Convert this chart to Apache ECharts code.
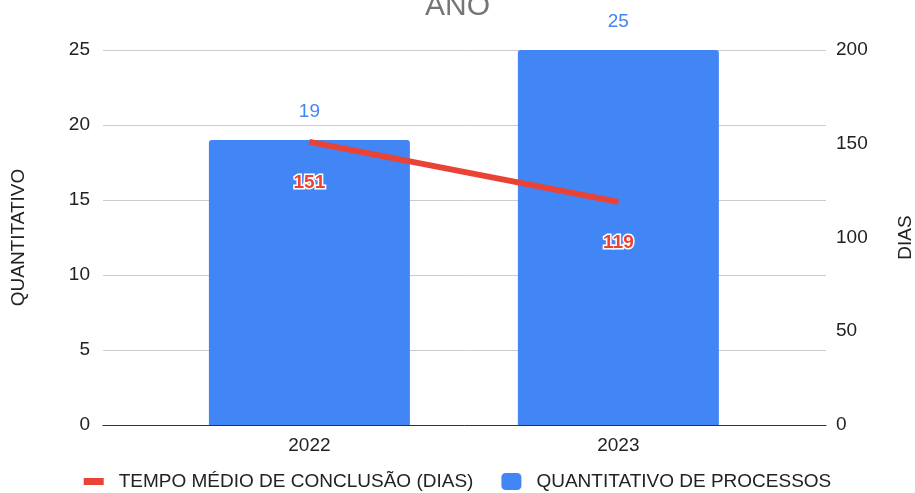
<!DOCTYPE html>
<html>
<head>
<meta charset="utf-8">
<script src="https://cdn.jsdelivr.net/npm/echarts@6/dist/echarts.min.js"></script>
<style>
html,body{margin:0;padding:0;background:#fff;}
#chart{width:915px;height:493px;}
</style>
</head>
<body>
<div id="chart"></div>
<script>
var anos = ['2022', '2023'];
var quantitativo = [19, 25];
var tempoMedio = [151, 119];
var ticksQuant = [0, 5, 10, 15, 20, 25];
var ticksDias = [0, 50, 100, 150, 200];

var chart = echarts.init(document.getElementById('chart'));
var fonte = '"Liberation Sans", Arial, sans-serif';

var option = {
    backgroundColor: '#fff',
    textStyle: { fontFamily: fonte },
    title: {
        text: 'ANO',
        left: 'center',
        top: -13,
        textStyle: { fontFamily: fonte, fontSize: 30, fontWeight: 'normal', color: '#757575' }
    },
    legend: {
        bottom: -3,
        left: 'center',
        itemGap: 28,
        itemWidth: 20,
        itemHeight: 17,
        textStyle: { fontFamily: fonte, fontSize: 19, color: '#222', padding: [0, 0, 0, 10] },
        data: [
            { name: 'TEMPO MÉDIO DE CONCLUSÃO (DIAS)', icon: 'path://M0,0H20V7H0Z', itemStyle: { color: '#ea4335' } },
            { name: 'QUANTITATIVO DE PROCESSOS', icon: 'roundRect' }
        ]
    },
    grid: { left: 103, right: 89, top: 50, bottom: 68, outerBoundsMode: 'none', containLabel: false },
    //eixo x como valor para deixar as barras no lugar certo
    xAxis: {
        type: 'value',
        min: -0.668,
        max: 1.672,
        splitLine: { show: false },
        axisTick: { show: false },
        axisLine: { show: true, lineStyle: { color: '#333', width: 1 } },
        axisLabel: {
            customValues: [0, 1],
            margin: 11,
            fontSize: 19,
            color: '#222',
            formatter: function (v) { return anos[Math.round(v)]; }
        }
    },
    yAxis: [{
        type: 'value',
        min: ticksQuant[0],
        max: ticksQuant[ticksQuant.length - 1],
        interval: 5,
        name: 'QUANTITATIVO',
        nameLocation: 'middle',
        nameGap: 75,
        nameRotate: 90,
        nameTextStyle: { fontFamily: fonte, fontSize: 19, color: '#222' },
        axisLine: { show: false },
        axisTick: { show: false },
        axisLabel: { fontSize: 19, color: '#222', margin: 13 },
        splitLine: { lineStyle: { color: '#ccc' } }
    }, {
        type: 'value',
        min: ticksDias[0],
        max: ticksDias[ticksDias.length - 1],
        interval: 50,
        name: 'DIAS',
        nameLocation: 'middle',
        nameGap: 70,
        nameRotate: 90,
        nameTextStyle: { fontFamily: fonte, fontSize: 19, color: '#222' },
        axisLine: { show: false },
        axisTick: { show: false },
        axisLabel: { fontSize: 19, color: '#222', margin: 10 },
        splitLine: { show: false }
    }],
    series: [{
        name: 'QUANTITATIVO DE PROCESSOS',
        type: 'bar',
        yAxisIndex: 0,
        barWidth: 201,
        z: 2,
        data: quantitativo.map(function (v, i) { return [i, v]; }),
        itemStyle: { color: '#4285f4', borderRadius: [3, 3, 0, 0] },
        label: {
            show: true,
            position: 'top',
            distance: 19,
            fontSize: 19,
            color: '#4285f4',
            formatter: function (p) { return p.value[1]; }
        }
    }, {
        name: 'TEMPO MÉDIO DE CONCLUSÃO (DIAS)',
        type: 'line',
        yAxisIndex: 1,
        z: 3,
        symbol: 'circle',
        symbolSize: 1,
        showSymbol: true,
        data: tempoMedio.map(function (v, i) { return [i, v]; }),
        lineStyle: { color: '#ea4335', width: 6 },
        itemStyle: { color: '#ea4335' },
        label: {
            show: true,
            position: 'bottom',
            distance: 31,
            fontSize: 19,
            fontWeight: 'bold',
            color: '#ea4335',
            textBorderColor: '#fff',
            textBorderWidth: 3,
            formatter: function (p) { return p.value[1]; }
        }
    }]
};
chart.setOption(option);
</script>
</body>
</html>
